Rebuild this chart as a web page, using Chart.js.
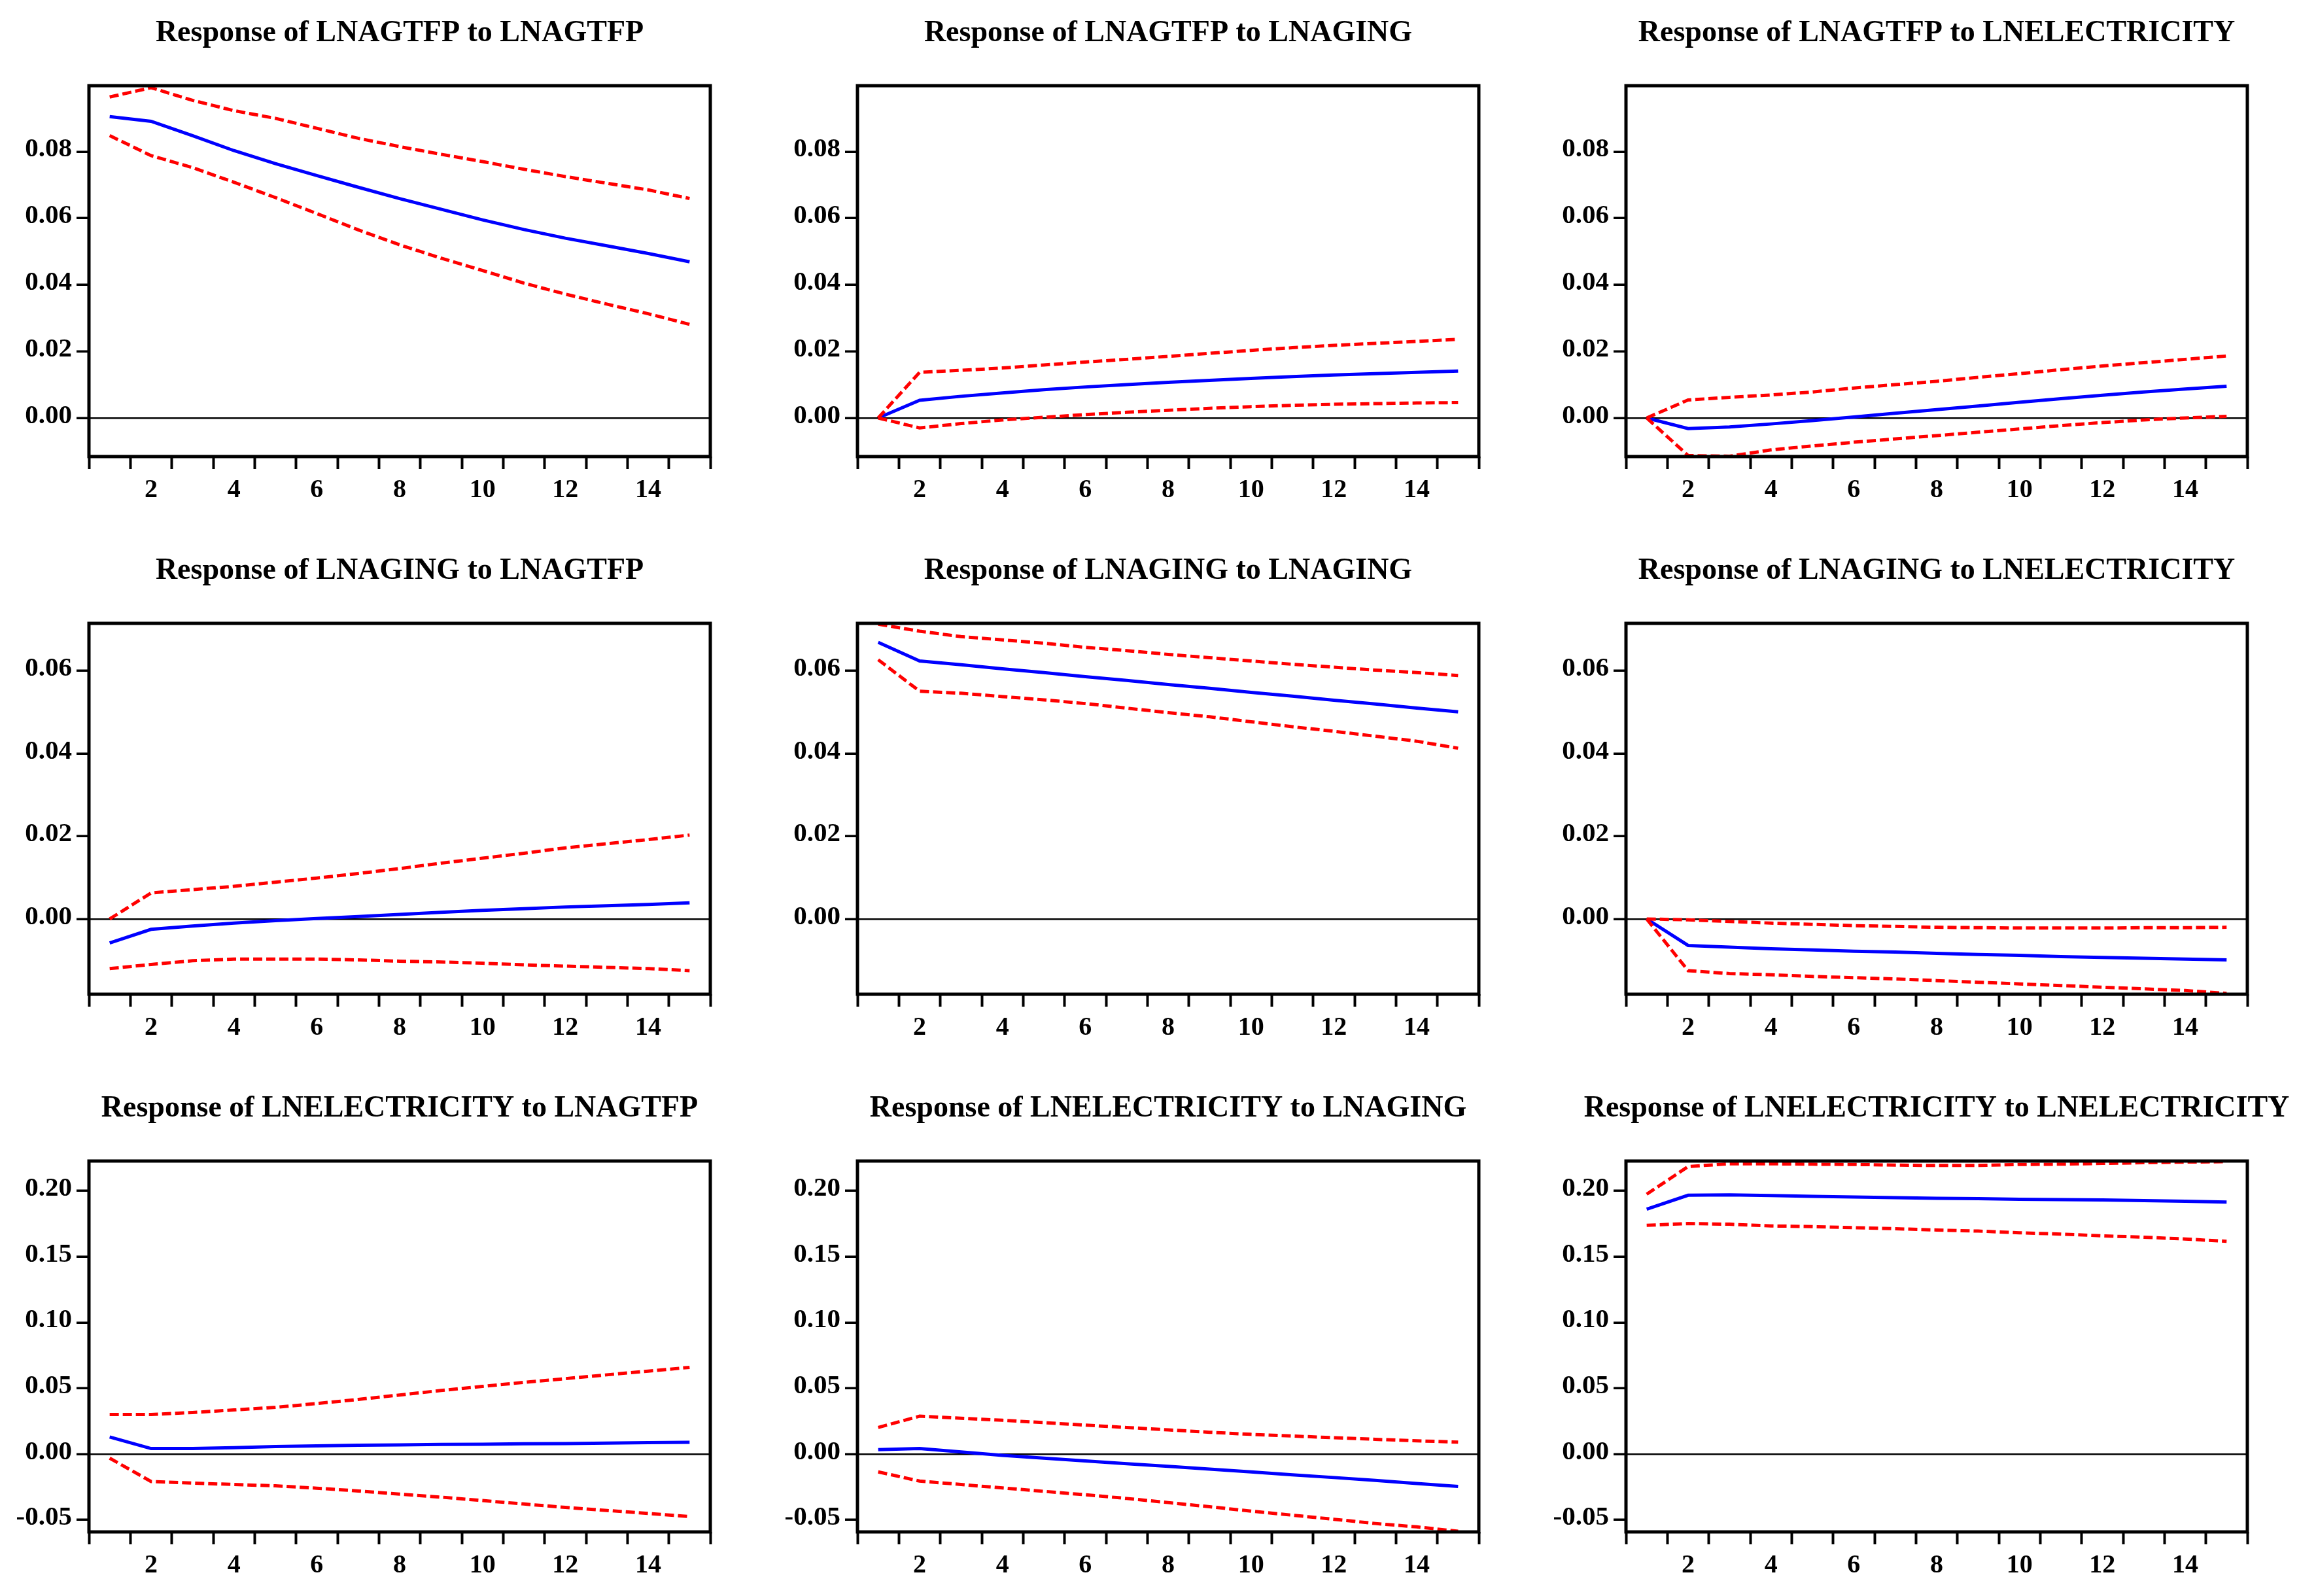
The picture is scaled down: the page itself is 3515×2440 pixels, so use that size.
<!DOCTYPE html>
<html>
<head>
<meta charset="utf-8">
<title>Impulse responses</title>
<script src="https://cdn.jsdelivr.net/npm/chart.js@4.4.0/dist/chart.umd.min.js"></script>
<style>
  html, body { margin: 0; padding: 0; background: #fff; }
  #page { position: relative; width: 3515px; height: 2440px; overflow: hidden; background: #fff; }
  #page canvas { position: absolute; }
</style>
</head>
<body>
<div id="page"></div>
<script>
// Periods 1..15, only even ones get a label
const periods = [1, 2, 3, 4, 5, 6, 7, 8, 9, 10, 11, 12, 13, 14, 15];
const xTickLabels = [2, 4, 6, 8, 10, 12, 14];

// Y axis ticks and ranges, one per row of panels
const yTicksAgtfp = [0, 0.02, 0.04, 0.06, 0.08];
const yTicksAging = [0, 0.02, 0.04, 0.06];
const yTicksElec = [-0.05, 0, 0.05, 0.10, 0.15, 0.20];
const yRangeAgtfp = [-0.0116, 0.0998];
const yRangeAging = [-0.0182, 0.0715];
const yRangeElec = [-0.0591, 0.2226];

// Response of LNAGTFP
const tfpToTfp = [0.0905, 0.0891, 0.0848, 0.0803, 0.0764, 0.0728, 0.0693, 0.0659, 0.0627, 0.0595, 0.0566, 0.0540, 0.0517, 0.0494, 0.0469];
const tfpToTfpHi = [0.0964, 0.0992, 0.0954, 0.0923, 0.0900, 0.0870, 0.0840, 0.0815, 0.0792, 0.0770, 0.0747, 0.0725, 0.0705, 0.0685, 0.0659];
const tfpToTfpLo = [0.0848, 0.0788, 0.0752, 0.0708, 0.0662, 0.0614, 0.0565, 0.0520, 0.0480, 0.0443, 0.0405, 0.0372, 0.0342, 0.0313, 0.0281];

const tfpToAging = [0, 0.0053, 0.0065, 0.0075, 0.0085, 0.0093, 0.0100, 0.0107, 0.0113, 0.0119, 0.0124, 0.0129, 0.0133, 0.0137, 0.0141];
const tfpToAgingHi = [0, 0.0137, 0.0143, 0.0150, 0.0159, 0.0168, 0.0176, 0.0185, 0.0194, 0.0203, 0.0211, 0.0218, 0.0224, 0.0230, 0.0236];
const tfpToAgingLo = [0, -0.0030, -0.0017, -0.0006, 0.0002, 0.0010, 0.0017, 0.0023, 0.0029, 0.0034, 0.0038, 0.0041, 0.0043, 0.0045, 0.0046];

const tfpToElec = [0, -0.0032, -0.0027, -0.0018, -0.0008, 0.0003, 0.0014, 0.0025, 0.0036, 0.0047, 0.0058, 0.0068, 0.0078, 0.0087, 0.0095];
const tfpToElecHi = [0, 0.0054, 0.0062, 0.0069, 0.0078, 0.0090, 0.0100, 0.0110, 0.0122, 0.0133, 0.0145, 0.0156, 0.0166, 0.0176, 0.0186];
const tfpToElecLo = [0, -0.0113, -0.0115, -0.0096, -0.0084, -0.0073, -0.0063, -0.0053, -0.0043, -0.0033, -0.0023, -0.0014, -0.0006, 0.0000, 0.0005];

// Response of LNAGING
const agingToTfp = [-0.0058, -0.0025, -0.0017, -0.0010, -0.0004, 0.0001, 0.0006, 0.0011, 0.0016, 0.0021, 0.0025, 0.0029, 0.0032, 0.0035, 0.0039];
const agingToTfpHi = [0.0000, 0.0063, 0.0071, 0.0079, 0.0089, 0.0099, 0.0110, 0.0122, 0.0135, 0.0147, 0.0159, 0.0172, 0.0182, 0.0192, 0.0203];
const agingToTfpLo = [-0.0120, -0.0110, -0.0101, -0.0097, -0.0097, -0.0097, -0.0099, -0.0102, -0.0104, -0.0107, -0.0111, -0.0114, -0.0117, -0.0120, -0.0125];

const agingToAging = [0.0669, 0.0624, 0.0615, 0.0605, 0.0596, 0.0586, 0.0577, 0.0567, 0.0558, 0.0548, 0.0539, 0.0529, 0.0520, 0.0510, 0.0501];
const agingToAgingHi = [0.0713, 0.0696, 0.0683, 0.0675, 0.0667, 0.0657, 0.0649, 0.0640, 0.0632, 0.0624, 0.0616, 0.0609, 0.0602, 0.0596, 0.0589];
const agingToAgingLo = [0.0627, 0.0551, 0.0546, 0.0538, 0.0530, 0.0521, 0.0510, 0.0499, 0.0489, 0.0477, 0.0465, 0.0454, 0.0442, 0.0430, 0.0413];

const agingToElec = [0, -0.0064, -0.0068, -0.0072, -0.0075, -0.0078, -0.0080, -0.0083, -0.0086, -0.0088, -0.0091, -0.0093, -0.0095, -0.0097, -0.0099];
const agingToElecHi = [0, -0.0002, -0.0006, -0.0010, -0.0013, -0.0016, -0.0018, -0.0020, -0.0021, -0.0022, -0.0022, -0.0022, -0.0021, -0.0021, -0.0020];
const agingToElecLo = [0, -0.0125, -0.0132, -0.0135, -0.0139, -0.0142, -0.0145, -0.0149, -0.0153, -0.0157, -0.0161, -0.0165, -0.0169, -0.0173, -0.0180];

// Response of LNELECTRICITY
const elecToTfp = [0.0130, 0.0042, 0.0042, 0.0049, 0.0057, 0.0062, 0.0067, 0.0070, 0.0073, 0.0075, 0.0078, 0.0080, 0.0083, 0.0087, 0.0090];
const elecToTfpHi = [0.0301, 0.0301, 0.0316, 0.0335, 0.0355, 0.0384, 0.0415, 0.0449, 0.0483, 0.0514, 0.0545, 0.0573, 0.0602, 0.0630, 0.0659];
const elecToTfpLo = [-0.0031, -0.0208, -0.0220, -0.0231, -0.0241, -0.0259, -0.0280, -0.0304, -0.0327, -0.0353, -0.0379, -0.0405, -0.0428, -0.0451, -0.0475];

const elecToAging = [0.0034, 0.0042, 0.0016, -0.0010, -0.0031, -0.0052, -0.0073, -0.0093, -0.0114, -0.0135, -0.0157, -0.0178, -0.0200, -0.0223, -0.0246];
const elecToAgingHi = [0.0202, 0.0288, 0.0272, 0.0257, 0.0239, 0.0220, 0.0202, 0.0184, 0.0166, 0.0150, 0.0137, 0.0125, 0.0112, 0.0101, 0.0091];
const elecToAgingLo = [-0.0135, -0.0205, -0.0231, -0.0257, -0.0283, -0.0309, -0.0337, -0.0368, -0.0400, -0.0433, -0.0464, -0.0495, -0.0527, -0.0553, -0.0586];

const elecToElec = [0.1860, 0.1966, 0.1969, 0.1964, 0.1958, 0.1953, 0.1948, 0.1943, 0.1940, 0.1935, 0.1933, 0.1930, 0.1925, 0.1920, 0.1914];
const elecToElecHi = [0.1974, 0.2184, 0.2205, 0.2205, 0.2202, 0.2200, 0.2195, 0.2192, 0.2192, 0.2200, 0.2202, 0.2208, 0.2213, 0.2218, 0.2221];
const elecToElecLo = [0.1738, 0.1751, 0.1746, 0.1733, 0.1728, 0.1720, 0.1712, 0.1702, 0.1694, 0.1681, 0.1671, 0.1658, 0.1647, 0.1634, 0.1616];

const panels = [
    { title: 'Response of LNAGTFP to LNAGTFP', resp: tfpToTfp, hi: tfpToTfpHi, lo: tfpToTfpLo, ticks: yTicksAgtfp, range: yRangeAgtfp },
    { title: 'Response of LNAGTFP to LNAGING', resp: tfpToAging, hi: tfpToAgingHi, lo: tfpToAgingLo, ticks: yTicksAgtfp, range: yRangeAgtfp },
    { title: 'Response of LNAGTFP to LNELECTRICITY', resp: tfpToElec, hi: tfpToElecHi, lo: tfpToElecLo, ticks: yTicksAgtfp, range: yRangeAgtfp },
    { title: 'Response of LNAGING to LNAGTFP', resp: agingToTfp, hi: agingToTfpHi, lo: agingToTfpLo, ticks: yTicksAging, range: yRangeAging },
    { title: 'Response of LNAGING to LNAGING', resp: agingToAging, hi: agingToAgingHi, lo: agingToAgingLo, ticks: yTicksAging, range: yRangeAging },
    { title: 'Response of LNAGING to LNELECTRICITY', resp: agingToElec, hi: agingToElecHi, lo: agingToElecLo, ticks: yTicksAging, range: yRangeAging },
    { title: 'Response of LNELECTRICITY to LNAGTFP', resp: elecToTfp, hi: elecToTfpHi, lo: elecToTfpLo, ticks: yTicksElec, range: yRangeElec },
    { title: 'Response of LNELECTRICITY to LNAGING', resp: elecToAging, hi: elecToAgingHi, lo: elecToAgingLo, ticks: yTicksElec, range: yRangeElec },
    { title: 'Response of LNELECTRICITY to LNELECTRICITY', resp: elecToElec, hi: elecToElecHi, lo: elecToElecLo, ticks: yTicksElec, range: yRangeElec }
];

// Panel geometry (pixels)
const CANVAS_W = 1222;
const CANVAS_H = 800;
const AXIS_W = 136;      // y axis strip, mirrored by an empty strip on the right
const TOP_H = 131;       // title strip above the frame
const PLOT_H = 567;
const COL_LEFT = [0, 1175, 2350];
const ROW_TOP = [0, 822, 1644];

const FONT = 'Liberation Serif, Times New Roman, serif';

// thick black box around the plot area
const framePlugin = {
    id: 'frame',
    afterDraw(chart) {
        const { ctx, chartArea: a } = chart;
        ctx.save();
        ctx.strokeStyle = '#000';
        ctx.lineWidth = 5;
        ctx.strokeRect(a.left, a.top, a.right - a.left, a.bottom - a.top);
        ctx.restore();
    }
};

function bandDataset(values) {
    return {
        data: values,
        borderColor: '#ff0000',
        borderWidth: 5,
        borderDash: [14, 6],
        pointRadius: 0,
        tension: 0
    };
}

function buildPanel(panel, index) {
    const canvas = document.createElement('canvas');
    canvas.width = CANVAS_W;
    canvas.height = CANVAS_H;
    canvas.style.left = COL_LEFT[index % 3] + 'px';
    canvas.style.top = ROW_TOP[Math.floor(index / 3)] + 'px';
    document.getElementById('page').appendChild(canvas);

    new Chart(canvas, {
        type: 'line',
        data: {
            labels: periods,
            datasets: [
                bandDataset(panel.lo),
                bandDataset(panel.hi),
                {
                    data: panel.resp,
                    borderColor: '#0000ff',
                    borderWidth: 5,
                    pointRadius: 0,
                    tension: 0
                }
            ]
        },
        options: {
            responsive: false,
            animation: false,
            devicePixelRatio: 1,
            layout: { padding: 0 },
            plugins: {
                legend: { display: false },
                tooltip: { enabled: false },
                title: {
                    display: true,
                    text: panel.title,
                    color: '#000',
                    font: { family: FONT, size: 46, weight: 'bold', lineHeight: 1.2 },
                    padding: { top: 24, bottom: TOP_H - 24 - 55.2 }
                }
            },
            scales: {
                x: {
                    type: 'category',
                    offset: true,
                    border: { display: false },
                    grid: {
                        offset: true,
                        drawOnChartArea: false,
                        color: '#000',
                        tickColor: '#000',
                        tickWidth: 4,
                        tickLength: 19
                    },
                    ticks: {
                        autoSkip: false,
                        maxRotation: 0,
                        padding: 9,
                        color: '#000',
                        font: { family: FONT, size: 40, weight: 'bold' },
                        callback: (value, i) => xTickLabels.includes(periods[i]) ? String(periods[i]) : ''
                    },
                    afterFit: scale => { scale.height = CANVAS_H - TOP_H - PLOT_H; }
                },
                y: {
                    min: panel.range[0],
                    max: panel.range[1],
                    border: { display: false },
                    afterBuildTicks: scale => {
                        scale.ticks = panel.ticks.map(v => ({ value: v }));
                    },
                    grid: {
                        color: ctx => (ctx.tick && ctx.tick.value === 0) ? '#000' : 'rgba(0,0,0,0)',
                        lineWidth: 2.5,
                        tickColor: '#000',
                        tickWidth: 3.5,
                        tickLength: 19
                    },
                    ticks: {
                        padding: 7,
                        labelOffset: -3,
                        color: '#000',
                        font: { family: FONT, size: 41, weight: 'bold' },
                        callback: value => value.toFixed(2)
                    },
                    afterFit: scale => { scale.width = AXIS_W; }
                },
                // empty right strip so the title centres over the frame
                yPad: {
                    position: 'right',
                    min: panel.range[0],
                    max: panel.range[1],
                    border: { display: false },
                    grid: { display: false },
                    ticks: { display: false },
                    afterFit: scale => { scale.width = AXIS_W; }
                }
            }
        },
        plugins: [framePlugin]
    });
}

panels.forEach(buildPanel);
</script>
</body>
</html>
